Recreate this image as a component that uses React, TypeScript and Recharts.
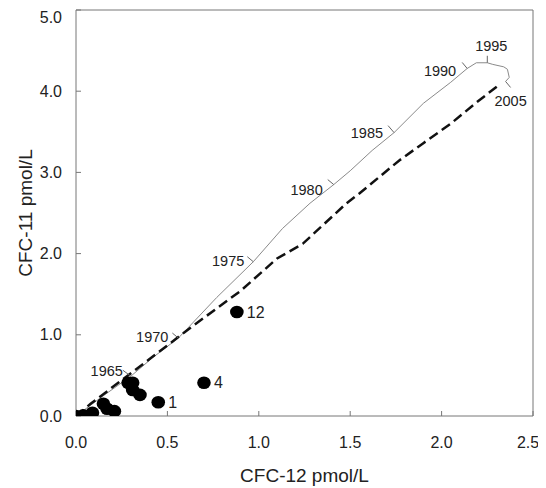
import React from "react";
import { ComposedChart, Line, Scatter, XAxis, YAxis, ReferenceLine } from "recharts";

// atmospheric CFC-11 vs CFC-12 history (solid curve)
const atmCurve = [
  { x: 0.0, y: 0.0 }, { x: 0.15, y: 0.25 }, { x: 0.3, y: 0.49 }, { x: 0.42, y: 0.72 },
  { x: 0.56, y: 0.96 }, { x: 0.77, y: 1.46 }, { x: 0.97, y: 1.9 }, { x: 1.13, y: 2.31 },
  { x: 1.28, y: 2.62 }, { x: 1.41, y: 2.85 }, { x: 1.5, y: 3.02 }, { x: 1.62, y: 3.27 },
  { x: 1.74, y: 3.49 }, { x: 1.9, y: 3.85 }, { x: 2.05, y: 4.11 }, { x: 2.14, y: 4.28 },
  { x: 2.19, y: 4.35 }, { x: 2.25, y: 4.35 }, { x: 2.28, y: 4.33 }, { x: 2.34, y: 4.3 },
  { x: 2.36, y: 4.27 }, { x: 2.37, y: 4.17 }, { x: 2.35, y: 4.12 },
];

// dashed curve
const dashedCurve = [
  { x: 0.0, y: 0.0 }, { x: 0.08, y: 0.15 }, { x: 0.39, y: 0.68 }, { x: 0.64, y: 1.11 },
  { x: 0.9, y: 1.54 }, { x: 1.1, y: 1.94 }, { x: 1.24, y: 2.12 }, { x: 1.48, y: 2.62 },
  { x: 1.55, y: 2.74 }, { x: 1.77, y: 3.15 }, { x: 1.9, y: 3.36 }, { x: 2.05, y: 3.6 },
  { x: 2.19, y: 3.86 }, { x: 2.31, y: 4.07 },
];

// year marks on the solid curve
const yearMarks = [
  { year: 1965, x: 0.3, y: 0.49 },
  { year: 1970, x: 0.56, y: 0.96 },
  { year: 1975, x: 0.97, y: 1.9 },
  { year: 1980, x: 1.41, y: 2.85 },
  { year: 1985, x: 1.74, y: 3.49 },
  { year: 1990, x: 2.14, y: 4.28 },
  { year: 1995, x: 2.25, y: 4.35 },
  { year: 2005, x: 2.35, y: 4.12 },
];

// samples
const samples = [
  { x: 0.0, y: 0.0, label: "" }, { x: 0.04, y: 0.01, label: "" }, { x: 0.09, y: 0.04, label: "" },
  { x: 0.15, y: 0.15, label: "" }, { x: 0.17, y: 0.09, label: "" }, { x: 0.21, y: 0.06, label: "" },
  { x: 0.285, y: 0.41, label: "" }, { x: 0.31, y: 0.41, label: "" }, { x: 0.31, y: 0.32, label: "" },
  { x: 0.35, y: 0.26, label: "" }, { x: 0.45, y: 0.17, label: "1" }, { x: 0.7, y: 0.41, label: "4" },
  { x: 0.88, y: 1.28, label: "12" },
];

const xTicks = [0, 0.5, 1.0, 1.5, 2.0, 2.5];
const yTicks = [0, 1, 2, 3, 4, 5];

const FONT = "'Liberation Sans', Arial, sans-serif";
const AXIS = "#777";

// tick direction + label position for each year, pixels from the curve point
const yearLayout: Record<number, { tx: number; ty: number; lx: number; ly: number; anchor: string }> = {
  1965: { tx: -8, ty: -6, lx: -8, ly: -5, anchor: "end" },
  1970: { tx: -6, ty: -5, lx: -10, ly: -1, anchor: "end" },
  1975: { tx: -6, ty: -5, lx: -9, ly: -1, anchor: "end" },
  1980: { tx: -6, ty: -5, lx: -11, ly: 5, anchor: "end" },
  1985: { tx: -6, ty: -7, lx: -11, ly: 0, anchor: "end" },
  1990: { tx: -5, ty: -6, lx: -11, ly: 2, anchor: "end" },
  1995: { tx: 0, ty: -7, lx: 4, ly: -17, anchor: "middle" },
  2005: { tx: 5, ty: 6, lx: 5, ly: 19, anchor: "middle" },
};

const SampleDot = (props: any) => {
  const { cx, cy, payload } = props;
  return (
    <g>
      <ellipse cx={cx} cy={cy} rx={6.8} ry={6.3} fill="#000" />
      {payload.label ? (
        <text x={cx + 10} y={cy} dy="0.35em" fontSize={16} fill="#222" fontFamily={FONT}>
          {payload.label}
        </text>
      ) : null}
    </g>
  );
};

const YearTick = (props: any) => {
  const { cx, cy, payload } = props;
  const l = yearLayout[payload.year];
  return (
    <g>
      <line x1={cx} y1={cy} x2={cx + l.tx} y2={cy + l.ty} stroke="#666" strokeWidth={1} />
      <text
        x={cx + l.lx}
        y={cy + l.ly}
        dy="0.35em"
        textAnchor={l.anchor as any}
        fontSize={14.5}
        fill="#222"
        fontFamily={FONT}
      >
        {payload.year}
      </text>
    </g>
  );
};

export default function App() {
  return (
    <ComposedChart
      width={530}
      height={480}
      margin={{ top: 2, right: 5, left: 8, bottom: 6 }}
      style={{ fontFamily: FONT }}
    >
      <XAxis
        dataKey="x"
        type="number"
        domain={[0, 2.5]}
        ticks={xTicks}
        tickFormatter={(v: number) => v.toFixed(1)}
        height={66}
        stroke={AXIS}
        tickSize={-5}
        tickMargin={26}
        tick={{ fontSize: 16, fill: "#222" }}
        allowDataOverflow
        label={{ value: "CFC-12 pmol/L", position: "insideBottom", offset: 0, fontSize: 19, fill: "#222" }}
      />
      <YAxis
        dataKey="y"
        type="number"
        domain={[0, 5]}
        ticks={yTicks}
        tickFormatter={(v: number) => v.toFixed(1)}
        width={60}
        stroke={AXIS}
        tickSize={-5}
        tickMargin={19}
        tick={{ fontSize: 16, fill: "#222" }}
        allowDataOverflow
        label={{
          value: "CFC-11 pmol/L",
          angle: -90,
          position: "insideLeft",
          offset: 9,
          fontSize: 19,
          fill: "#222",
          style: { textAnchor: "middle" },
        }}
      />
      <ReferenceLine y={5} stroke={AXIS} />
      <ReferenceLine x={2.5} stroke={AXIS} />
      <Line
        data={atmCurve}
        dataKey="y"
        type="linear"
        stroke="#8a8a8a"
        strokeWidth={1}
        dot={false}
        isAnimationActive={false}
      />
      <Line
        data={dashedCurve}
        dataKey="y"
        type="linear"
        stroke="#111"
        strokeWidth={2.5}
        strokeDasharray="10 5"
        dot={false}
        isAnimationActive={false}
      />
      <Scatter data={samples} dataKey="y" shape={SampleDot} isAnimationActive={false} />
      <Scatter data={yearMarks} dataKey="y" shape={YearTick} isAnimationActive={false} />
    </ComposedChart>
  );
}
